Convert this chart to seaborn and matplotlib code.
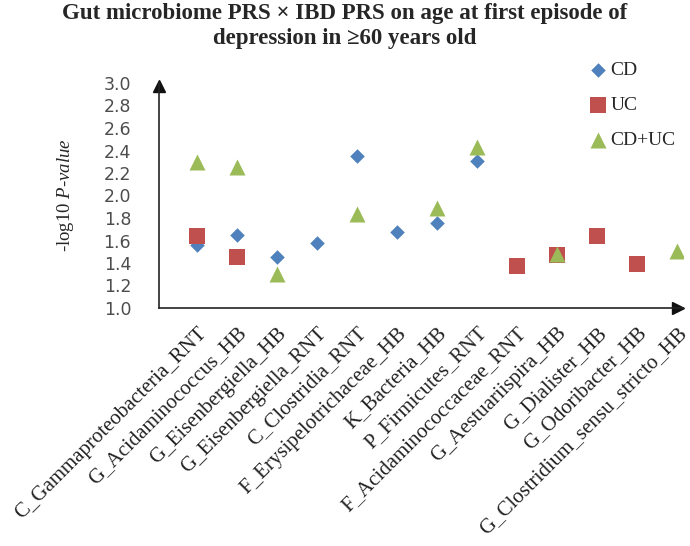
import numpy as np
import pandas as pd
import matplotlib
matplotlib.use("Agg")
import matplotlib.pyplot as plt
import seaborn as sns

taxa = ["C_Gammaproteobacteria_RNT", "G_Acidaminococcus_HB", "G_Eisenbergiella_HB",
        "G_Eisenbergiella_RNT", "C_Clostridia_RNT", "F_Erysipelotrichaceae_HB",
        "K_Bacteria_HB", "P_Firmicutes_RNT", "F_Acidaminococcaceae_RNT",
        "G_Aestuariispira_HB", "G_Dialister_HB", "G_Odoribacter_HB",
        "G_Clostridium_sensu_stricto_HB"]
nan = np.nan
cd = [1.56, 1.65, 1.45, 1.58, 2.35, 1.68, 1.76, 2.31, nan, nan, nan, nan, nan]
uc = [1.64, 1.45, nan, nan, nan, nan, nan, nan, 1.37, 1.47, 1.64, 1.39, nan]
cduc = [2.30, 2.25, 1.30, nan, 1.84, nan, 1.89, 2.43, nan, 1.48, nan, nan, 1.51]
groups = ["CD", "UC", "CD+UC"]
yticks = [1.0, 1.2, 1.4, 1.6, 1.8, 2.0, 2.2, 2.4, 2.6, 2.8, 3.0]

df = pd.DataFrame({"x": list(range(len(taxa))) * 3,
                   "val": cd + uc + cduc,
                   "grp": np.repeat(groups, len(taxa))}).dropna()

sns.set_style("white")
plt.rcParams["font.family"] = ["Liberation Serif", "DejaVu Serif"]
plt.rcParams["mathtext.fontset"] = "custom"
plt.rcParams["mathtext.rm"] = "Liberation Serif"
plt.rcParams["mathtext.it"] = "Liberation Serif:italic"

fig = plt.figure(figsize=(6.9, 5.46), dpi=100)
ax = fig.add_axes([159 / 690, 1 - 308 / 546, 524 / 690, 225 / 546])

palette = {"CD": "#4f81bd", "UC": "#c0504d", "CD+UC": "#9bbb59"}
markers = {"CD": "D", "UC": "s", "CD+UC": "^"}
sizes = {"CD": 55, "UC": 117, "CD+UC": 133}
for g in groups:
    sub = df[df["grp"] == g]
    sns.scatterplot(data=sub, x="x", y="val", color=palette[g], marker=markers[g],
                    s=sizes[g], linewidth=0, label=g, ax=ax, zorder=3)

ax.set_xlim(-0.95, 12.15)
ax.set_ylim(1.0, 3.0)
ax.set_xticks(range(12))
ax.set_xticklabels([])
for i, t in enumerate(taxa):
    ax.text(i + 0.0, -0.07, t, rotation=45, ha="right", va="top", rotation_mode="anchor",
            fontsize=15, color="#222222", transform=ax.get_xaxis_transform())
ax.set_yticks(yticks)
ax.set_yticklabels([f"{v:.1f}" for v in yticks], family="DejaVu Sans",
                   fontsize=12.5, color="#4d4d4d")
ax.tick_params(axis="x", direction="in", length=6, width=1, color="#333333")
ax.tick_params(axis="y", direction="inout", length=6, width=1, color="#333333", pad=17)
for s in ["top", "right"]:
    ax.spines[s].set_visible(False)
for s in ["left", "bottom"]:
    ax.spines[s].set_color("#222222")
    ax.spines[s].set_linewidth(1.2)
ax.plot(0.99, 0, ">", color="#111111", ms=8, transform=ax.transAxes, clip_on=False)
ax.plot(0, 0.985, "^", color="#111111", ms=8, transform=ax.transAxes, clip_on=False)

ax.set_xlabel("")
ax.set_ylabel("-log10 $\\it{P}$-$\\it{value}$", fontsize=13.5)
ax.yaxis.set_label_coords((76 - 159) / 524, 0.5)

ax.legend(loc="upper left", bbox_to_anchor=(0.852, 0.888), bbox_transform=fig.transFigure,
          frameon=False, fontsize=14, handlelength=1.0, handletextpad=0.15,
          labelspacing=0.9, borderpad=0, borderaxespad=0)

fig.suptitle("Gut microbiome PRS × IBD PRS on age at first episode of\ndepression in ≥60 years old",
             x=0.5, y=0.995, fontsize=16.5, fontweight="bold", linespacing=1.25)

fig.savefig("out.png", dpi=100)
